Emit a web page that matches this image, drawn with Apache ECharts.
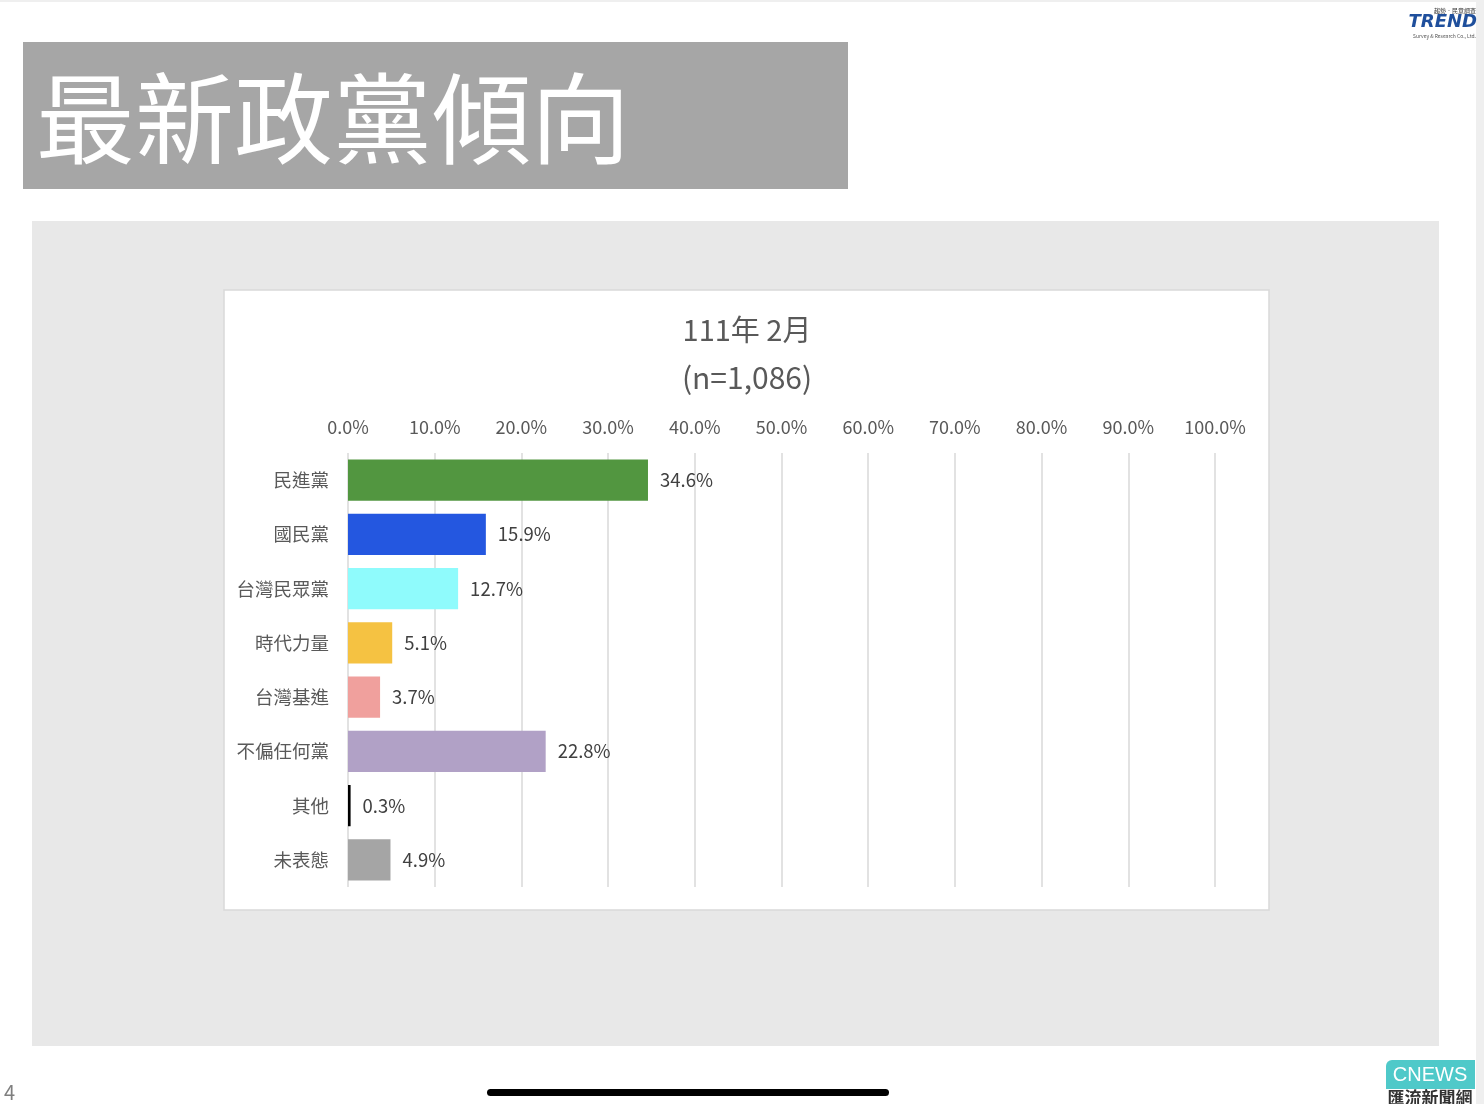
<!DOCTYPE html>
<html>
<head>
<meta charset="utf-8">
<style>
html,body{margin:0;padding:0;background:#fff;}
#chart{width:1484px;height:1104px;}
</style>
<script src="https://cdn.jsdelivr.net/npm/echarts@6/dist/echarts.min.js"></script>
</head>
<body>
<div id="chart"></div>
<script>
const categories = ['民進黨','國民黨','台灣民眾黨','時代力量','台灣基進','不偏任何黨','其他','未表態'];
const values = [34.6, 15.9, 12.7, 5.1, 3.7, 22.8, 0.3, 4.9];
const barColors = ['#529640','#2457E0','#8FFBFC','#F5C242','#F0A09D','#B1A1C6','#000000','#A5A5A5'];
const axisTicks = [0,10,20,30,40,50,60,70,80,90,100];
const slideTitle = '最新政黨傾向';
const chartTitle = '111年 2月';
const chartSubtitle = '(n=1,086)';

const FONT = '"Noto Sans CJK TC", "Noto Sans", sans-serif';
const chart = echarts.init(document.getElementById('chart'));

chart.setOption({
  backgroundColor: '#ffffff',
  animation: false,
  title: [
    { text: chartTitle, left: 742, top: 310, textAlign: 'center',
      textStyle: { fontFamily: FONT, fontSize: 29, fontWeight: 'normal', color: '#595959' } },
    { text: chartSubtitle, left: 742, top: 358, textAlign: 'center',
      textStyle: { fontFamily: FONT, fontSize: 30, fontWeight: 'normal', color: '#595959' } }
  ],
  grid: { left: 348, right: 269, top: 453, bottom: 217, containLabel: false },
  xAxis: {
    type: 'value', position: 'top', min: 0, max: 100, interval: 10,
    axisLine: { show: false }, axisTick: { show: false },
    axisLabel: { fontFamily: FONT, fontSize: 18, color: '#595959', margin: 17,
      formatter: v => v.toFixed(1) + '%' },
    splitLine: { show: true, lineStyle: { color: '#D9D9D9', width: 1.5 } }
  },
  yAxis: {
    type: 'category', data: categories, inverse: true,
    axisLine: { show: false }, axisTick: { show: false },
    axisLabel: { fontFamily: FONT, fontSize: 18.5, color: '#595959', margin: 19 }
  },
  series: [{
    type: 'bar', z: 3,
    data: values.map((v, i) => ({ value: v, itemStyle: { color: barColors[i] } })),
    barCategoryGap: '24%',
    label: { show: true, position: 'right', distance: 12, fontFamily: FONT, fontSize: 18.5,
      color: '#404040', formatter: p => p.value.toFixed(1) + '%' }
  }],
  graphic: [
    { type: 'rect', z: -10, shape: { x: 32, y: 221, width: 1407, height: 825 }, style: { fill: '#E8E8E8' } },
    { type: 'rect', z: -9, shape: { x: 224, y: 290, width: 1045, height: 620 }, style: { fill: '#FFFFFF', stroke: '#D9D9D9', lineWidth: 1.5 } },
    { type: 'rect', z: -9, shape: { x: 23, y: 42, width: 825, height: 147 }, style: { fill: '#A6A6A6' } },
    { type: 'text', z: 10, x: 36, y: 118, style: { text: slideTitle, fill: '#FFFFFF', fontFamily: FONT, fontSize: 99, fontWeight: 'normal', verticalAlign: 'middle' } },
    { type: 'rect', z: -9, shape: { x: 1476, y: 0, width: 8, height: 1104 }, style: { fill: '#EFEFEF' } },
    { type: 'rect', z: -9, shape: { x: 0, y: 0, width: 1484, height: 2 }, style: { fill: '#EFEFEF' } },
    { type: 'text', x: 4, y: 1092, style: { text: '4', fill: '#7F7F7F', fontFamily: FONT, fontSize: 20, verticalAlign: 'middle' } },
    { type: 'rect', shape: { x: 487, y: 1089, width: 402, height: 7, r: 3.5 }, style: { fill: '#000000' } },
    { type: 'text', x: 1476, y: 8, style: { text: '趨勢．民意調查', fill: '#333', fontFamily: FONT, fontSize: 6, align: 'right' } },
    { type: 'text', x: 1477, y: 22, style: { text: 'TREND', fill: '#1F4F9C', fontFamily: 'DejaVu Sans', fontSize: 18, fontWeight: 'bold', fontStyle: 'italic', align: 'right', verticalAlign: 'middle' } },
    { type: 'text', x: 1476, y: 34, style: { text: 'Survey & Research Co., Ltd.', fill: '#555', fontFamily: FONT, fontSize: 5, align: 'right' } },
    { type: 'rect', shape: { x: 1386, y: 1060, width: 89, height: 29, r: [6, 0, 0, 0] }, style: { fill: '#4FC9C9' } },
    { type: 'text', x: 1430, y: 1075, style: { text: 'CNEWS', fill: '#FFFFFF', fontFamily: 'Liberation Sans', fontSize: 20, align: 'center', verticalAlign: 'middle' } },
    { type: 'text', x: 1430, y: 1098, style: { text: '匯流新聞網', fill: '#333333', fontFamily: FONT, fontSize: 17, fontWeight: 'bold', align: 'center', verticalAlign: 'middle' } }
  ]
});
</script>
</body>
</html>
